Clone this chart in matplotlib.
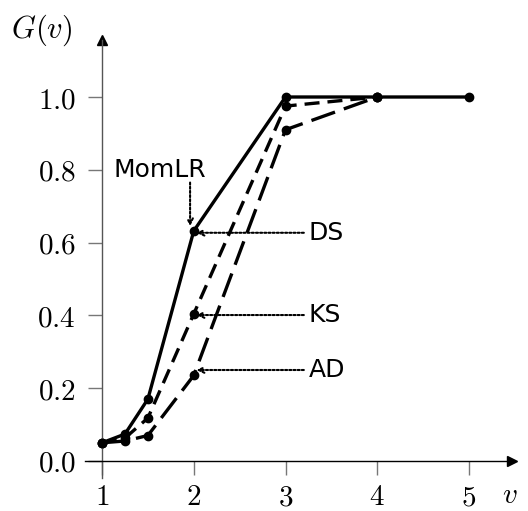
import numpy as np
import matplotlib.pyplot as plt

plt.rcParams['mathtext.fontset'] = 'cm'

v = [1, 1.25, 1.5, 2, 3, 4, 5]
g_momlr = [0.05, 0.074, 0.17, 0.632, 1.0, 1.0, 1.0]
v_ks = [1, 1.25, 1.5, 2, 3, 4]
g_ks = [0.05, 0.063, 0.118, 0.404, 0.975, 1.0]
v_ad = [1, 1.25, 1.5, 2, 3, 4]
g_ad = [0.05, 0.055, 0.07, 0.235, 0.91, 1.0]

xticks = [1, 2, 3, 4, 5]
yticks = [0.0, 0.2, 0.4, 0.6, 0.8, 1.0]

# labels: (text, x of text, y of text, point x, point y)
labels = [('DS', 3.25, 0.627, 2.0, 0.627),
          ('KS', 3.25, 0.401, 2.0, 0.401),
          ('AD', 3.25, 0.25, 2.0, 0.25)]

W, H = 528, 511
fig = plt.figure(figsize=(W/100, H/100), dpi=100)
ax = fig.add_axes([85/W, 1-478/H, (512-85)/W, (478-40)/H])
ax.set_xlim(1-17/91.75, 1+410/91.75)
ax.set_ylim(-17/364, 421/364)

for s in ['top', 'right']:
    ax.spines[s].set_visible(False)
ax.spines['left'].set_position(('data', 1))
ax.spines['bottom'].set_position(('data', 0))
ax.spines['left'].set_color('#555555')
ax.spines['bottom'].set_color('black')
ax.spines['left'].set_linewidth(1.0)
ax.spines['bottom'].set_linewidth(1.0)
ax.plot(1, 1.0, '^k', ms=7, transform=ax.get_xaxis_transform(), clip_on=False)
ax.plot(1.0, 0, '>k', ms=7, transform=ax.get_yaxis_transform(), clip_on=False)

ax.set_xticks(xticks)
ax.set_yticks(yticks)
ax.set_xticklabels(['$%d$' % t for t in xticks])
ax.set_yticklabels(['$%.1f$' % t for t in yticks])
ax.tick_params(direction='out', length=10, width=1, color='#777777', labelsize=21)
ax.tick_params(axis='y', pad=9)
ax.tick_params(axis='x', pad=6)

ax.plot(v, g_momlr, 'k-', lw=2.4, marker='o', ms=6, zorder=5)
l1, = ax.plot(v_ks, g_ks, 'k--', lw=2.4, marker='o', ms=6)
l1.set_dashes((4.5, 2.4))
l2, = ax.plot(v_ad, g_ad, 'k--', lw=2.4, marker='o', ms=6)
l2.set_dashes((7.5, 2.8))

dots = (0, (1, 1))
for txt, tx, ty, px, py in labels:
    ax.annotate('', xy=(px, py), xytext=(tx - 0.05, ty),
                arrowprops=dict(arrowstyle='->', ls=dots, lw=1.5, color='black', shrinkA=0, shrinkB=2))
    ax.text(tx, ty, txt, fontsize=18, va='center', ha='left', family='DejaVu Sans')

ax.annotate('', xy=(1.96, 0.645), xytext=(1.96, 0.765),
            arrowprops=dict(arrowstyle='->', ls=dots, lw=1.5, color='black', shrinkA=0, shrinkB=0))
ax.text(1.63, 0.80, 'MomLR', fontsize=18, va='center', ha='center', family='DejaVu Sans')

fig.text(42/W, 1-30/H, '$G(v)$', fontsize=22, ha='center', va='center')
fig.text(510/W, 1-495/H, '$v$', fontsize=21, ha='center', va='center')

fig.savefig('out.png', dpi=100)
